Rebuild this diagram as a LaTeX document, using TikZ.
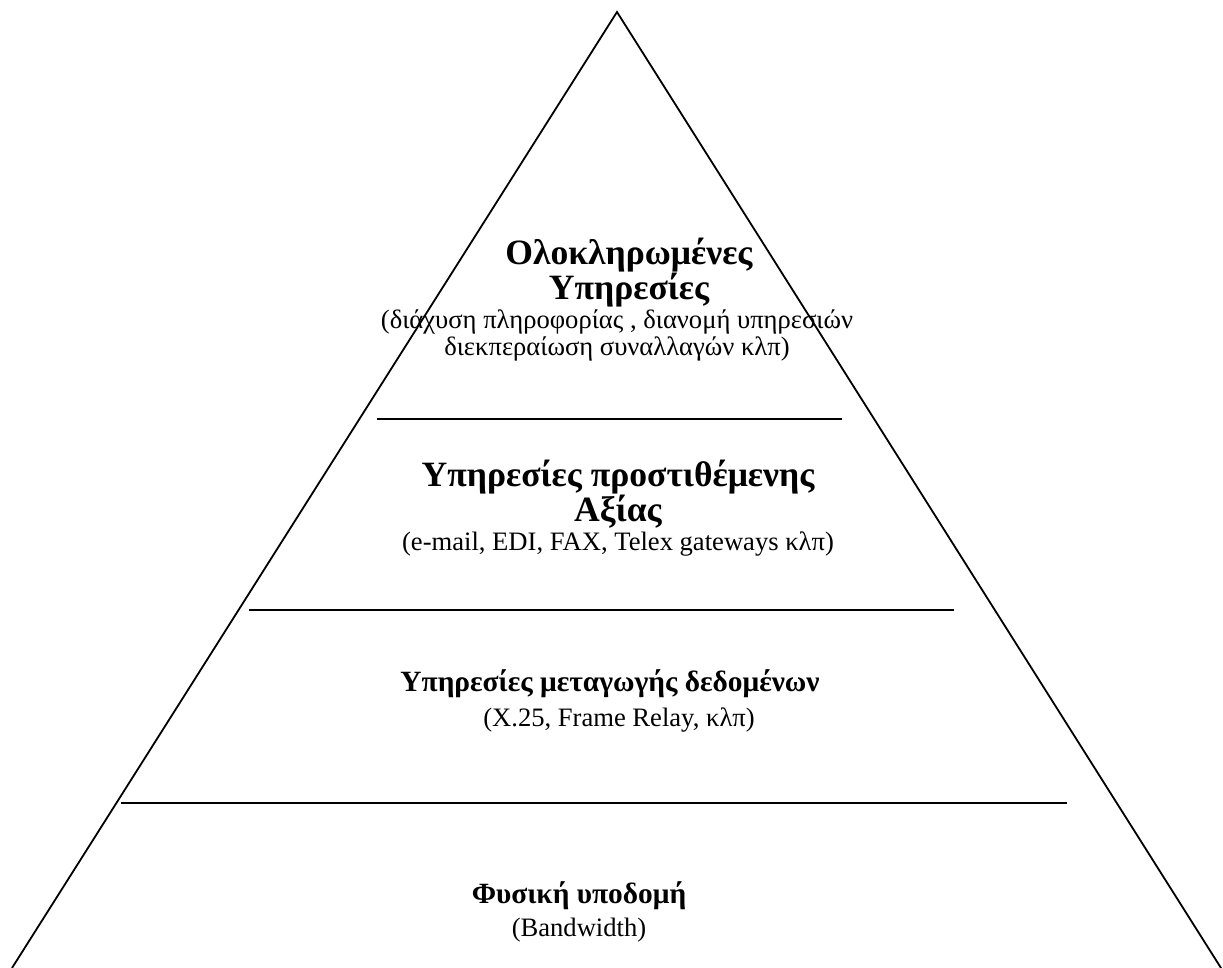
\documentclass[tikz,border=0pt]{standalone}
\usepackage{fontspec}
\setmainfont{Liberation Serif}
\usepackage{tikz}

\newcommand{\bigtitle}{\fontsize{17.8}{13.5}\selectfont\bfseries}
\newcommand{\smalltitle}{\fontsize{14.7}{13.5}\selectfont\bfseries}
\newcommand{\notetext}{\fontsize{13.3}{13.5}\selectfont\mdseries}
\newcommand{\layerfont}{\notetext\lineskiplimit-20pt\relax}

\begin{document}
\begin{tikzpicture}[x=0.5pt,y=-0.5pt,
    layer/.style={font=\layerfont, align=center, inner sep=0pt}]
    \useasboundingbox (0,0) rectangle (1223,968);
    \coordinate (T) at (617,12); \coordinate (L) at (12,968); \coordinate (R) at (1221,968);
    \draw[line width=0.9pt] (L) -- (T) -- (R);
    \coordinate (D1l) at (377,419); \coordinate (D1r) at (842,419);
    \coordinate (D2l) at (249,610); \coordinate (D2r) at (954,610);
    \coordinate (D3l) at (121,803); \coordinate (D3r) at (1067,803);
    \foreach \d in {D1,D2,D3} {\draw[line width=0.9pt] (\d l) -- (\d r);}
    \node[layer] (top) at (617,300) {\bigtitle\hspace*{12pt}Ολοκληρωμένες\\[4pt]\bigtitle\hspace*{12pt}Υπηρεσίες\\[1pt]\notetext(διάχυση πληροφορίας , διανομή υπηρεσιών\\\notetext διεκπεραίωση συναλλαγών κλπ)};
    \node[layer] (value) at (618,508) {\bigtitle Υπηρεσίες προστιθέμενης\\[4pt]\bigtitle Αξίας\\[1pt]\notetext(e-mail, EDI, FAX, Telex gateways κλπ)};
    \node[layer] (switch) at (610,701) {\smalltitle Υπηρεσίες μεταγωγής δεδομένων\\[4pt]\notetext\hspace*{9pt}(X.25, Frame Relay, κλπ)};
    \node[layer] (phys) at (579,912) {\smalltitle Φυσική υποδομή\\[3pt]\notetext(Bandwidth)};
\end{tikzpicture}
\end{document}
